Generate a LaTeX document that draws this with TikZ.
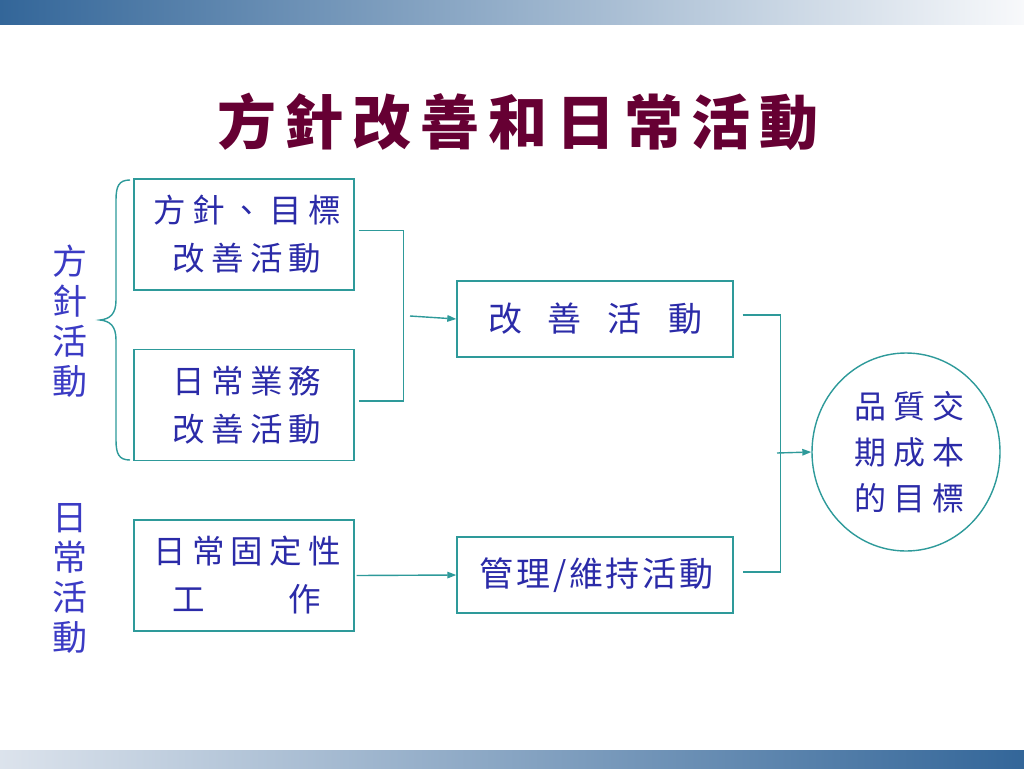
\documentclass[tikz,border=0pt]{standalone}
\usepackage{fontspec}
\newfontfamily\cjk{Noto Sans CJK TC}
\usetikzlibrary{arrows.meta,shapes.geometric}
\definecolor{teal1}{HTML}{2E9A9A}
\definecolor{txtblue}{HTML}{2B2BA8}
\definecolor{lblblue}{HTML}{3B3BC4}
\definecolor{titlered}{HTML}{660033}
\definecolor{barblue}{HTML}{336699}
\definecolor{barlight}{HTML}{F8F9FB}
\definecolor{barlight2}{HTML}{DCE3EC}
\tikzset{
  box/.style={draw=teal1, line width=1.4pt, minimum width=220pt, minimum height=111pt,
    inner sep=0pt, text=txtblue, align=center,
    font=\cjk\fontsize{32.5}{48}\selectfont\addfontfeature{LetterSpace=19}},
  wbox/.style={draw=teal1, line width=1.4pt, minimum width=276pt, minimum height=76pt,
    inner sep=0pt, text=txtblue, align=center,
    font=\cjk\fontsize{34}{40}\selectfont},
  goalbox/.style={ellipse, draw=teal1, line width=1.4pt, minimum width=188pt, minimum height=198pt,
    inner sep=0pt, text=txtblue, align=center,
    font=\cjk\fontsize{32}{46}\selectfont\addfontfeature{LetterSpace=22}},
  vlabel/.style={text=lblblue, align=center, inner sep=0pt,
    font=\cjk\fontsize{35}{40}\selectfont},
  conn/.style={draw=teal1, line width=1.4pt},
  arr/.style={conn, -{Triangle[length=9pt,width=6.5pt]}}
}
\begin{document}
\begin{tikzpicture}[x=1pt,y=-1pt]
\useasboundingbox (0,0) rectangle (1024,768);
\fill[white] (0,0) rectangle (1024,768);
% gradient bars
\shade[left color=barblue, right color=barlight] (0,0) rectangle (1024,25);
\shade[left color=barlight2, right color=barblue] (0,750) rectangle (1024,768);
% title
\node[text=titlered, font=\cjk\bfseries\fontsize{59}{60}\selectfont\addfontfeature{LetterSpace=15}] (title) at (518,122) {方針改善和日常活動};
% left labels
\node[vlabel] (lab1) at (70,321) {方\\針\\活\\動};
\node[vlabel] (lab2) at (70,578) {日\\常\\活\\動};
% boxes
\node[box] (b1) at (244,234.5) {\kern6pt方針、目標\\\kern6pt改善活動};
\node[box] (b2) at (244,405) {\kern6pt日常業務\\\kern6pt改善活動};
\node[box] (b3) at (244,575.5) {\kern6pt日常固定性\\\kern6pt工　　作};
\node[wbox] (b4) at (595,319) {改\hspace{26pt}善\hspace{26pt}活\hspace{26pt}動};
\node[wbox, font=\cjk\fontsize{34}{40}\selectfont\addfontfeature{LetterSpace=8}] (b5) at (595,575) {\kern3pt管理/維持活動};
\node[goalbox] (goal) at (906,452) {\kern7pt品質交\\\kern7pt期成本\\\kern7pt的目標};
% brace
\draw[conn] (130,180) .. controls (119,180) and (116,186) .. (116,200) -- (116,300)
  .. controls (116,314) and (110,319) .. (100,320)
  .. controls (110,321) and (116,326) .. (116,340) -- (116,440)
  .. controls (116,454) and (119,460) .. (130,460);
% connectors
\draw[conn] ([shift={(4,-4)}]b1.east) -- ++(45,0) |- ([shift={(4,-4)}]b2.east);
\coordinate (m1) at (410,316);
\draw[arr] (m1) -- (b4.west);
\draw[conn] ([shift={(9,-4)}]b4.east) -- ++(38,0) |- ([shift={(9,-3)}]b5.east);
\coordinate (m2) at (777,453);
\draw[arr] (m2) -- (goal.west);
\draw[arr] ([xshift=2pt]b3.east) -- (b5.west);
\end{tikzpicture}
\end{document}
